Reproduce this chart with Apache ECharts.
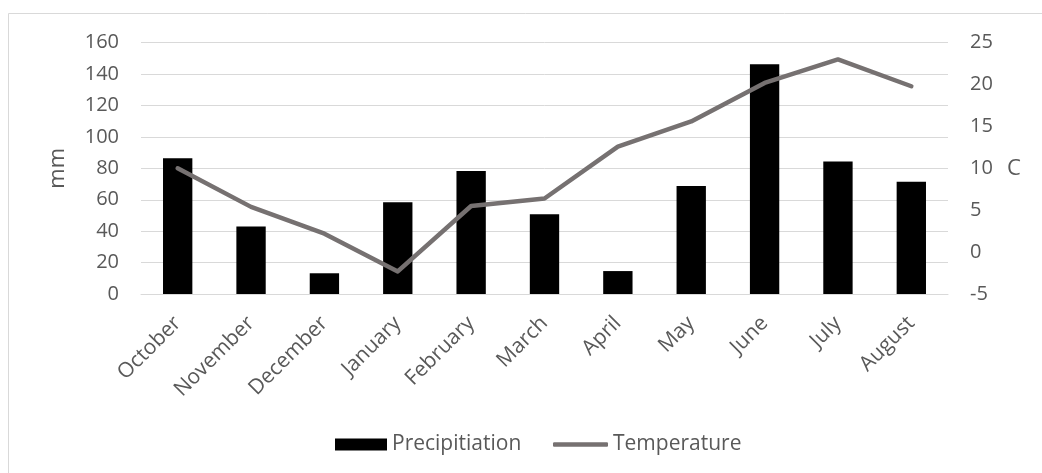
<!DOCTYPE html>
<html>
<head>
<meta charset="utf-8">
<script src="https://cdn.jsdelivr.net/npm/echarts@6/dist/echarts.min.js"></script>
<style>
html,body{margin:0;padding:0;background:#fff;}
#chart{width:1042px;height:473px;}
</style>
</head>
<body>
<div id="chart"></div>
<script>
const months = ['October','November','December','January','February','March','April','May','June','July','August'];
const precipitation = [86.4, 42.9, 13.2, 58.4, 78.3, 50.7, 14.6, 68.8, 146.2, 84.3, 71.5];
const temperature = [10.0, 5.4, 2.2, -2.3, 5.5, 6.4, 12.6, 15.6, 20.2, 23.0, 19.8];
const leftTicks = {min: 0, max: 160, interval: 20};
const rightTicks = {min: -5, max: 25, interval: 5};

const FONT = 'Open Sans';
const TXT = '#595959';
const LINE_COLOR = '#767171';

const chart = echarts.init(document.getElementById('chart'), null, {renderer: 'canvas'});
chart.setOption({
  animation: false,
  backgroundColor: '#ffffff',
  textStyle: {fontFamily: FONT, color: TXT},
  graphic: [{
    type: 'rect', z: -10, silent: true,
    shape: {x: 8.5, y: 13.5, width: 1200, height: 1000},
    style: {fill: 'none', stroke: '#d9d9d9', lineWidth: 1}
  }],
  grid: {left: 141, right: 94, top: 42.7, bottom: 179, containLabel: false},
  legend: [{
    left: 335, top: 434, padding: 0,
    itemWidth: 52, itemHeight: 12,
    textStyle: {fontFamily: FONT, fontSize: 21, color: TXT},
    data: [{name: 'Precipitiation', icon: 'rect'}]
  }, {
    left: 553, top: 434, padding: 0,
    itemWidth: 55, itemHeight: 4.5,
    textStyle: {fontFamily: FONT, fontSize: 21, color: TXT},
    data: [{name: 'Temperature', icon: 'roundRect'}]
  }],
  xAxis: {
    type: 'category', data: months,
    axisTick: {show: false},
    axisLine: {lineStyle: {color: '#d9d9d9', width: 1}},
    axisLabel: {rotate: 45, interval: 0, margin: 26, fontFamily: FONT, fontSize: 21, color: TXT}
  },
  yAxis: [{
    type: 'value', min: leftTicks.min, max: leftTicks.max, interval: leftTicks.interval,
    name: 'mm', nameLocation: 'middle', nameRotate: 90, nameGap: 72,
    nameTextStyle: {fontFamily: FONT, fontSize: 22, color: TXT},
    axisLine: {show: false}, axisTick: {show: false},
    axisLabel: {margin: 22, fontFamily: FONT, fontSize: 20, color: TXT},
    splitLine: {lineStyle: {color: '#d9d9d9', width: 1}}
  }, {
    type: 'value', min: rightTicks.min, max: rightTicks.max, interval: rightTicks.interval,
    name: 'C', nameLocation: 'middle', nameRotate: 0, nameGap: 59,
    nameTextStyle: {fontFamily: FONT, fontSize: 22, color: TXT},
    axisLine: {show: false}, axisTick: {show: false},
    axisLabel: {margin: 22, fontFamily: FONT, fontSize: 20, color: TXT},
    splitLine: {show: false}
  }],
  series: [{
    name: 'Precipitiation', type: 'bar', data: precipitation,
    yAxisIndex: 0, barWidth: '40%',
    itemStyle: {color: '#000000'}
  }, {
    name: 'Temperature', type: 'line', data: temperature,
    yAxisIndex: 1, symbol: 'none',
    lineStyle: {color: LINE_COLOR, width: 4.5, cap: 'round', join: 'round'},
    itemStyle: {color: LINE_COLOR}
  }]
});
</script>
</body>
</html>
